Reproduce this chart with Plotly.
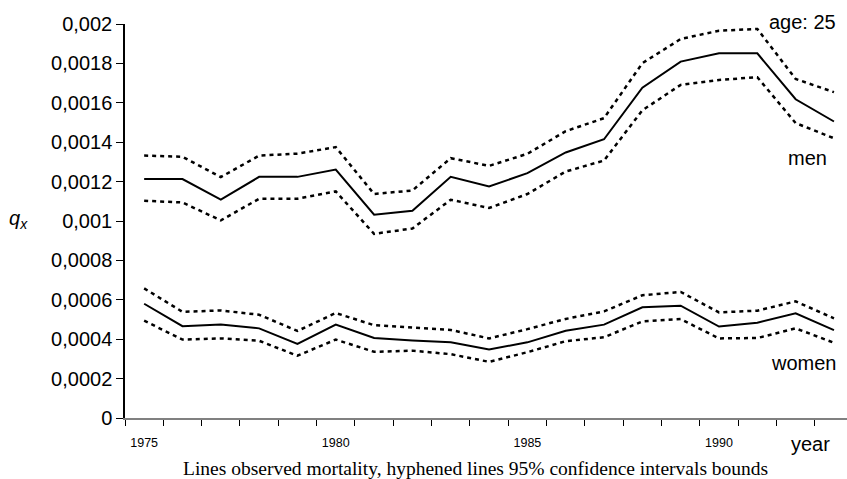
import plotly.graph_objects as go

# Observed mortality rates q_x at age 25, with 95% confidence bounds
years = list(range(1975, 1994))

men_qx = [0.001213, 0.001213, 0.001108, 0.001224, 0.001224, 0.001261, 0.001032,
          0.001052, 0.001224, 0.001175, 0.001243, 0.001348, 0.001415, 0.001677,
          0.001809, 0.001851, 0.001851, 0.001618, 0.001505]
men_upper = [0.001332, 0.001326, 0.001223, 0.001332, 0.001342, 0.001375, 0.001137,
             0.001155, 0.001319, 0.001280, 0.001341, 0.001456, 0.001522, 0.001801,
             0.001924, 0.001966, 0.001975, 0.001721, 0.001654]
men_lower = [0.001103, 0.001094, 0.001003, 0.001113, 0.001113, 0.001150, 0.000935,
             0.000962, 0.001108, 0.001066, 0.001137, 0.001251, 0.001307, 0.001562,
             0.001691, 0.001716, 0.001730, 0.001497, 0.001420]

women_qx = [0.000580, 0.000466, 0.000474, 0.000455, 0.000376, 0.000474, 0.000406,
            0.000393, 0.000384, 0.000348, 0.000384, 0.000443, 0.000474, 0.000562,
            0.000570, 0.000464, 0.000484, 0.000531, 0.000446]
women_upper = [0.000658, 0.000539, 0.000546, 0.000524, 0.000442, 0.000533, 0.000471,
               0.000460, 0.000447, 0.000404, 0.000451, 0.000503, 0.000541, 0.000623,
               0.000640, 0.000536, 0.000545, 0.000592, 0.000506]
women_lower = [0.000494, 0.000398, 0.000404, 0.000392, 0.000316, 0.000398, 0.000336,
               0.000342, 0.000324, 0.000285, 0.000334, 0.000390, 0.000410, 0.000490,
               0.000502, 0.000404, 0.000406, 0.000455, 0.000382]

x_tick_years = [1975, 1980, 1985, 1990]
y_tick_values = [0, 0.0002, 0.0004, 0.0006, 0.0008, 0.001,
                 0.0012, 0.0014, 0.0016, 0.0018, 0.002]
y_tick_labels = ["0", "0,0002", "0,0004", "0,0006", "0,0008", "0,001",
                 "0,0012", "0,0014", "0,0016", "0,0018", "0,002"]

SANS = "Liberation Sans, Arial, sans-serif"
SERIF = "Liberation Serif, Times New Roman, serif"

W, H = 847, 479
M_L, M_R, M_T, M_B = 125, 0, 24, 60.5

fig = go.Figure()

solid = dict(color="black", width=2)
dashed = dict(color="black", width=2.5, dash="4px,4px")

for series, style in [(men_upper, dashed), (men_qx, solid), (men_lower, dashed),
                      (women_upper, dashed), (women_qx, solid), (women_lower, dashed)]:
    fig.add_trace(go.Scatter(x=years, y=series, mode="lines", line=style,
                             showlegend=False, hoverinfo="x+y"))

fig.update_layout(
    width=W, height=H,
    margin=dict(l=M_L, r=M_R, t=M_T, b=M_B),
    paper_bgcolor="white", plot_bgcolor="white",
    font=dict(family=SANS, color="black"),
    xaxis=dict(
        range=[1974.5, 1993.34],
        tickmode="array", tickvals=x_tick_years,
        ticktext=[str(y) for y in x_tick_years],
        ticks="outside", ticklen=12, tickcolor="rgba(0,0,0,0)",
        tickfont=dict(size=12.5, family=SANS),
        minor=dict(tickmode="linear", tick0=1974.5, dtick=1,
                   ticks="outside", ticklen=6, tickcolor="black", tickwidth=1),
        showline=True, linecolor="#808080", linewidth=1.5,
        showgrid=False, zeroline=False,
    ),
    yaxis=dict(
        range=[0, 0.002],
        tickmode="array", tickvals=y_tick_values, ticktext=y_tick_labels,
        ticks="outside", ticklen=7, tickcolor="black", tickwidth=1,
        tickfont=dict(size=20, family=SANS),
        showline=True, linecolor="black", linewidth=1.5,
        showgrid=False, zeroline=False,
    ),
)

# Free-standing labels, placed in pixel terms and converted to paper coordinates
labels = [
    ("<i>q<sub>x</sub></i>", 18, 220, 20, SANS),
    ("age: 25", 802, 22, 20, SANS),
    ("men", 807, 158, 20, SANS),
    ("women", 803, 363, 20, SANS),
    ("year", 810, 445, 20, SANS),
    ("Lines observed mortality, hyphened lines 95% confidence intervals bounds",
     475, 469, 19.5, SERIF),
]
plot_w = W - M_L - M_R
plot_h = H - M_T - M_B
for text, px, py, size, family in labels:
    fig.add_annotation(
        text=text, xref="paper", yref="paper",
        x=(px - M_L) / plot_w,
        y=(H - M_B - py) / plot_h,
        xanchor="center", yanchor="middle", showarrow=False,
        font=dict(color="black", family=family, size=size),
    )

fig.write_html("out.html")
